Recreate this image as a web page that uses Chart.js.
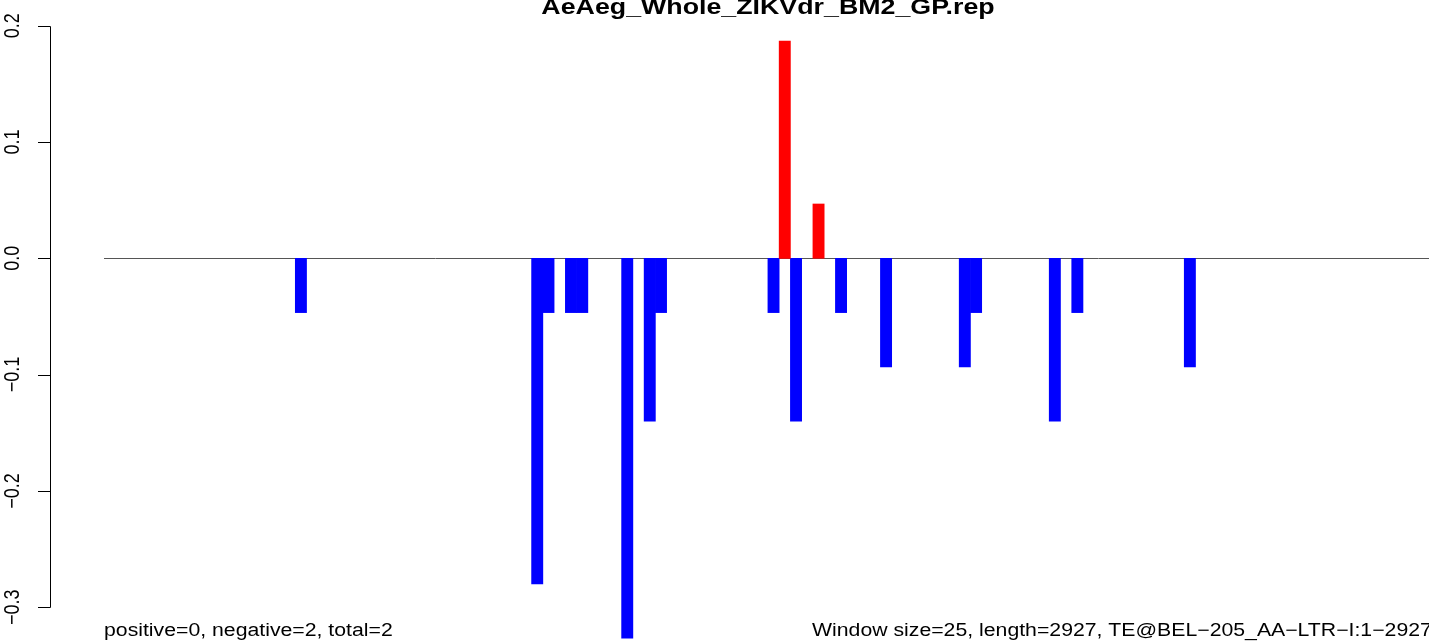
<!DOCTYPE html>
<html><head><meta charset="utf-8">
<script src="https://cdn.jsdelivr.net/npm/chart.js@4"></script>
<style>html,body{margin:0;padding:0;background:#fff;overflow:hidden}#wrap{width:1429px;height:643px;position:relative}</style>
</head><body><div id="wrap"><canvas id="c" width="1429" height="643"></canvas></div>
<script>
const chartTitle = "AeAeg_Whole_ZIKVdr_BM2_GP.rep";
const footLeft = "positive=0, negative=2, total=2";
const footRight = "Window size=25, length=2927, TE@BEL\u2212205_AA\u2212LTR\u2212I:1\u22122927";
const windowCount = 118;
const posWindows = [60, 63];
const posValues = [0.1867, 0.0467];
const negWindows = [17, 38, 39, 41, 42, 46, 48, 49, 59, 61, 65, 69, 76, 77, 84, 86, 96];
const negValues = [-0.0467, -0.28, -0.0467, -0.0467, -0.0467, -0.3267, -0.14, -0.0467, -0.0467, -0.14, -0.0467, -0.0933, -0.0933, -0.0467, -0.14, -0.0467, -0.0933];
const yTicks = [0.2, 0.1, 0.0, -0.1, -0.2, -0.3];
const yTickLabels = ["0.2", "0.1", "0.0", "\u22120.1", "\u22120.2", "\u22120.3"];

const SX = 1.18; // horizontal text stretch seen in the reference
const FONT = '"Liberation Sans", Arial, Helvetica, sans-serif';

const toPoints = (ws, vs) => ws.map((w, i) => ({ x: w + 0.5, y: vs[i] }));

const rDecor = {
  id: 'rDecor',
  beforeDatasetsDraw(chart) {
    const { ctx, scales: { x, y } } = chart;
    ctx.save();
    const y0 = Math.round(y.getPixelForValue(0)) + 0.5;
    ctx.strokeStyle = '#555555';
    ctx.lineWidth = 1;
    ctx.beginPath();
    ctx.moveTo(x.getPixelForValue(0), y0);
    ctx.lineTo(x.getPixelForValue(windowCount), y0);
    ctx.stroke();
    ctx.restore();
  },
  afterDraw(chart) {
    const { ctx, scales: { y } } = chart;
    ctx.save();
    const ax = 50.5;
    ctx.strokeStyle = '#000';
    ctx.lineWidth = 1;
    ctx.beginPath();
    ctx.moveTo(ax, Math.round(y.getPixelForValue(yTicks[0])) + 0.5);
    ctx.lineTo(ax, Math.round(y.getPixelForValue(yTicks[yTicks.length - 1])) + 0.5);
    yTicks.forEach(t => {
      const py = Math.round(y.getPixelForValue(t)) + 0.5;
      ctx.moveTo(38, py);
      ctx.lineTo(ax, py);
    });
    ctx.stroke();
    ctx.fillStyle = '#000';
    ctx.font = '18px ' + FONT;
    ctx.textAlign = 'center';
    ctx.textBaseline = 'middle';
    yTicks.forEach((t, i) => {
      const py = y.getPixelForValue(t);
      ctx.save();
      ctx.translate(13.5, py);
      ctx.scale(SX, 1);
      ctx.rotate(-Math.PI / 2);
      ctx.fillText(yTickLabels[i], 0, 0);
      ctx.restore();
    });
    ctx.font = 'bold 22.7px ' + FONT;
    ctx.textBaseline = 'alphabetic';
    ctx.save();
    ctx.translate(768, 13.5);
    ctx.scale(SX, 1);
    ctx.textAlign = 'center';
    ctx.fillText(chartTitle, 0, 0);
    ctx.restore();
    ctx.font = '18px ' + FONT;
    ctx.textAlign = 'left';
    ctx.save();
    ctx.translate(104, 636);
    ctx.scale(SX, 1);
    ctx.fillText(footLeft, 0, 0);
    ctx.restore();
    ctx.save();
    ctx.translate(812, 636);
    ctx.scale(SX, 1);
    ctx.fillText(footRight, 0, 0);
    ctx.restore();
    ctx.restore();
  }
};

new Chart(document.getElementById('c'), {
  type: 'bar',
  data: {
    datasets: [
      { label: 'positive', data: toPoints(posWindows, posValues), backgroundColor: '#FF0000', borderWidth: 0 },
      { label: 'negative', data: toPoints(negWindows, negValues), backgroundColor: '#0000FF', borderWidth: 0 }
    ]
  },
  options: {
    responsive: false,
    animation: false,
    devicePixelRatio: 1,
    grouped: false,
    barPercentage: 1,
    categoryPercentage: 1,
    layout: { padding: { left: 104, right: 0, top: 0, bottom: 0 } },
    plugins: { legend: { display: false }, title: { display: false }, tooltip: { enabled: false } },
    scales: {
      x: { type: 'linear', min: 0, max: 117.75, display: false, offset: false },
      y: { type: 'linear', min: -0.33078, max: 0.22210, display: false }
    }
  },
  plugins: [rDecor]
});
</script>
</body></html>
